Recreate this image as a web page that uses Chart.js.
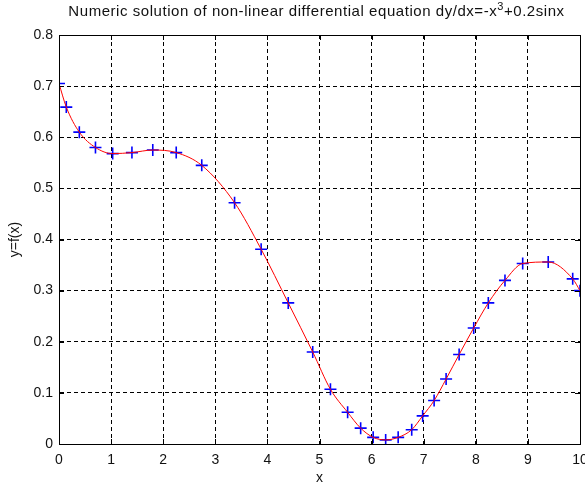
<!DOCTYPE html>
<html>
<head>
<meta charset="utf-8">
<script src="https://cdn.jsdelivr.net/npm/chart.js@4.4.1/dist/chart.umd.min.js"></script>
<style>
  html, body { margin: 0; padding: 0; background: #fff; }
  #wrap { width: 585px; height: 483px; }
</style>
</head>
<body>
<div id="wrap"><canvas id="c" width="585" height="483"></canvas></div>
<script>
// ---- data ----
const xValues = [0, 0.14, 0.39, 0.70, 1.03, 1.40, 1.80, 2.25, 2.74, 3.37, 3.88, 4.40, 4.87, 5.21, 5.54, 5.79, 6.03, 6.27, 6.51, 6.77, 6.98, 7.20, 7.43, 7.68, 7.96, 8.24, 8.56, 8.90, 9.39, 9.86, 10.0];
const yValues = [0.705, 0.659, 0.610, 0.580, 0.568, 0.570, 0.575, 0.570, 0.545, 0.472, 0.381, 0.276, 0.180, 0.107, 0.062, 0.031, 0.013, 0.008, 0.013, 0.028, 0.055, 0.085, 0.127, 0.175, 0.227, 0.276, 0.320, 0.353, 0.356, 0.323, 0.300];
const xTickLabels = ['0', '1', '2', '3', '4', '5', '6', '7', '8', '9', '10'];
const yTickLabels = ['0', '0.1', '0.2', '0.3', '0.4', '0.5', '0.6', '0.7', '0.8'];
// title pieces: [text, isSuperscript]
const titleParts = [
  ['Numeric solution of non-linear differential equation dy/dx=-x', false],
  ['3', true],
  ['+0.2sinx', false]
];

const points = xValues.map((x, i) => ({ x: x, y: yValues[i] }));
const FONT = '"Liberation Sans", Arial, Helvetica, sans-serif';

// title with a real superscript, centred over the plot area
const titlePlugin = {
  id: 'supTitle',
  afterDraw(chart) {
    const { ctx, chartArea: a } = chart;
    ctx.save();
    ctx.fillStyle = '#111';
    ctx.textBaseline = 'alphabetic';
    if ('letterSpacing' in ctx) ctx.letterSpacing = '0.55px';
    const mainFont = '15px ' + FONT;
    const supFont = '11px ' + FONT;
    let total = 0;
    const widths = titleParts.map(([t, sup]) => {
      ctx.font = sup ? supFont : mainFont;
      const w = ctx.measureText(t).width;
      total += w;
      return w;
    });
    let x = (a.left + a.right) / 2 - 3 - total / 2;
    const base = 16;
    titleParts.forEach(([t, sup], i) => {
      ctx.font = sup ? supFont : mainFont;
      ctx.fillText(t, x, sup ? base - 6 : base);
      x += widths[i];
    });
    ctx.restore();
  }
};

// box + inward tick marks like MATLAB
const boxPlugin = {
  id: 'boxPlugin',
  afterDraw(chart) {
    const { ctx, chartArea: a, scales } = chart;
    ctx.save();
    ctx.strokeStyle = '#000';
    ctx.lineWidth = 1;
    ctx.beginPath();
    ctx.rect(Math.round(a.left) + 0.5, Math.round(a.top) + 0.5, Math.round(a.right - a.left), Math.round(a.bottom - a.top));
    ctx.stroke();
    const L = 5;
    ctx.beginPath();
    scales.x.ticks.forEach(t => {
      const px = Math.round(scales.x.getPixelForValue(t.value)) + 0.5;
      ctx.moveTo(px, a.bottom); ctx.lineTo(px, a.bottom - L);
      ctx.moveTo(px, a.top); ctx.lineTo(px, a.top + L);
    });
    scales.y.ticks.forEach(t => {
      const py = Math.round(scales.y.getPixelForValue(t.value)) + 0.5;
      ctx.moveTo(a.left, py); ctx.lineTo(a.left + L, py);
      ctx.moveTo(a.right, py); ctx.lineTo(a.right - L, py);
    });
    ctx.stroke();
    ctx.restore();
  }
};

new Chart(document.getElementById('c'), {
  type: 'scatter',
  data: {
    datasets: [
      {
        label: 'solution',
        data: points,
        showLine: true,
        borderColor: '#ff0000',
        borderWidth: 1,
        pointRadius: 0,
        cubicInterpolationMode: 'monotone',
        fill: false
      },
      {
        label: 'points',
        data: points,
        showLine: false,
        pointStyle: 'cross',
        pointRadius: 6,
        pointBorderWidth: 1.6,
        pointBorderColor: '#0000ff',
        pointBackgroundColor: '#0000ff'
      }
    ]
  },
  plugins: [boxPlugin, titlePlugin],
  options: {
    responsive: false,
    animation: false,
    events: [],
    layout: { autoPadding: false, padding: { left: 0, right: 5, top: 35, bottom: 0 } },
    plugins: {
      legend: { display: false },
      tooltip: { enabled: false },
      title: { display: false }
    },
    scales: {
      x: {
        type: 'linear',
        min: 0, max: 10,
        ticks: {
          stepSize: 1,
          color: '#111',
          padding: 8,
          maxRotation: 0,
          font: { family: FONT, size: 14 },
          callback: (v) => xTickLabels[Math.round(v)]
        },
        grid: { color: '#000', lineWidth: 1, drawTicks: false, tickLength: 0 },
        border: { display: true, color: '#000', width: 1, dash: [4, 3] },
        title: { display: true, text: 'x', color: '#111', font: { family: FONT, size: 14, lineHeight: 1 }, padding: { top: 0, bottom: -2 } },
        afterFit: (s) => { s.height = 39; s.paddingLeft = 0; s.paddingRight = 0; }
      },
      y: {
        type: 'linear',
        min: 0, max: 0.8,
        ticks: {
          stepSize: 0.1,
          color: '#111',
          padding: 6,
          font: { family: FONT, size: 14 },
          callback: (v) => yTickLabels[Math.round(v * 10)]
        },
        grid: { color: '#000', lineWidth: 1, drawTicks: false, tickLength: 0 },
        border: { display: true, color: '#000', width: 1, dash: [4, 3] },
        title: { display: true, text: 'y=f(x)', color: '#111', font: { family: FONT, size: 14 }, padding: { top: 7, bottom: 0 } },
        afterFit: (s) => { s.width = 59; }
      }
    }
  }
});
</script>
</body>
</html>
